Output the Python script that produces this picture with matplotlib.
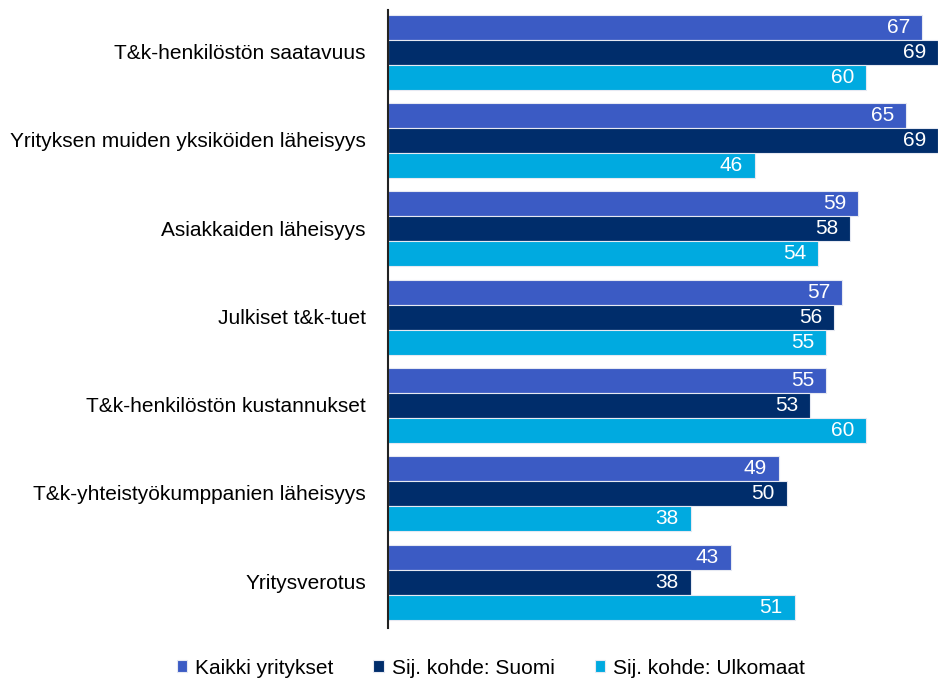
import matplotlib
matplotlib.use("Agg")
import matplotlib.pyplot as plt
import numpy as np

plt.rcParams['font.family'] = ['Liberation Sans', 'DejaVu Sans']

categories = [
    "T&k-henkilöstön saatavuus",
    "Yrityksen muiden yksiköiden läheisyys",
    "Asiakkaiden läheisyys",
    "Julkiset t&k-tuet",
    "T&k-henkilöstön kustannukset",
    "T&k-yhteistyökumppanien läheisyys",
    "Yritysverotus",
]
series_names = ["Kaikki yritykset", "Sij. kohde: Suomi", "Sij. kohde: Ulkomaat"]
kaikki = [67, 65, 59, 57, 55, 49, 43]
suomi = [69, 69, 58, 56, 53, 50, 38]
ulkomaat = [60, 46, 54, 55, 60, 38, 51]
colors = ["#3B5BC4", "#002D6B", "#00AAE0"]

fig = plt.figure(figsize=(9.38, 6.83), dpi=100)
ax = fig.add_axes([388/938, 1-628/683, 1-388/938, 618/683])

y = np.arange(len(categories))
h = 0.283
offsets = [-h, 0, h]
for vals, off, col, name in zip([kaikki, suomi, ulkomaat], offsets, colors, series_names):
    bars = ax.barh(y + off - 0.02, vals, height=h, color=col, edgecolor="#E6E9F2", linewidth=0.8, label=name)
    for b, v in zip(bars, vals):
        ax.annotate(str(v), (b.get_width(), b.get_y() + b.get_height()/2),
                    xytext=(-12, 0), textcoords="offset pixels",
                    ha="right", va="center", color="white", fontsize=15)

ax.set_xlim(0, 69)
ax.set_ylim(len(categories) - 0.5, -0.5)
ax.set_yticks(y - 0.03)
ax.set_yticklabels(categories, fontsize=15)
ax.tick_params(axis="y", length=0, pad=16)
ax.set_xticks([])
for s in ["top", "right", "bottom"]:
    ax.spines[s].set_visible(False)
ax.spines["left"].set_linewidth(1.5)
ax.spines["left"].set_color("#222222")

fig.legend(handles=ax.get_legend_handles_labels()[0], labels=series_names,
           loc="center", bbox_to_anchor=(491/938, 1-668/683), ncol=3, frameon=False,
           fontsize=15, handlelength=0.5, handleheight=0.5, handletextpad=0.4, columnspacing=1.9)

fig.savefig("out.png", dpi=100)
